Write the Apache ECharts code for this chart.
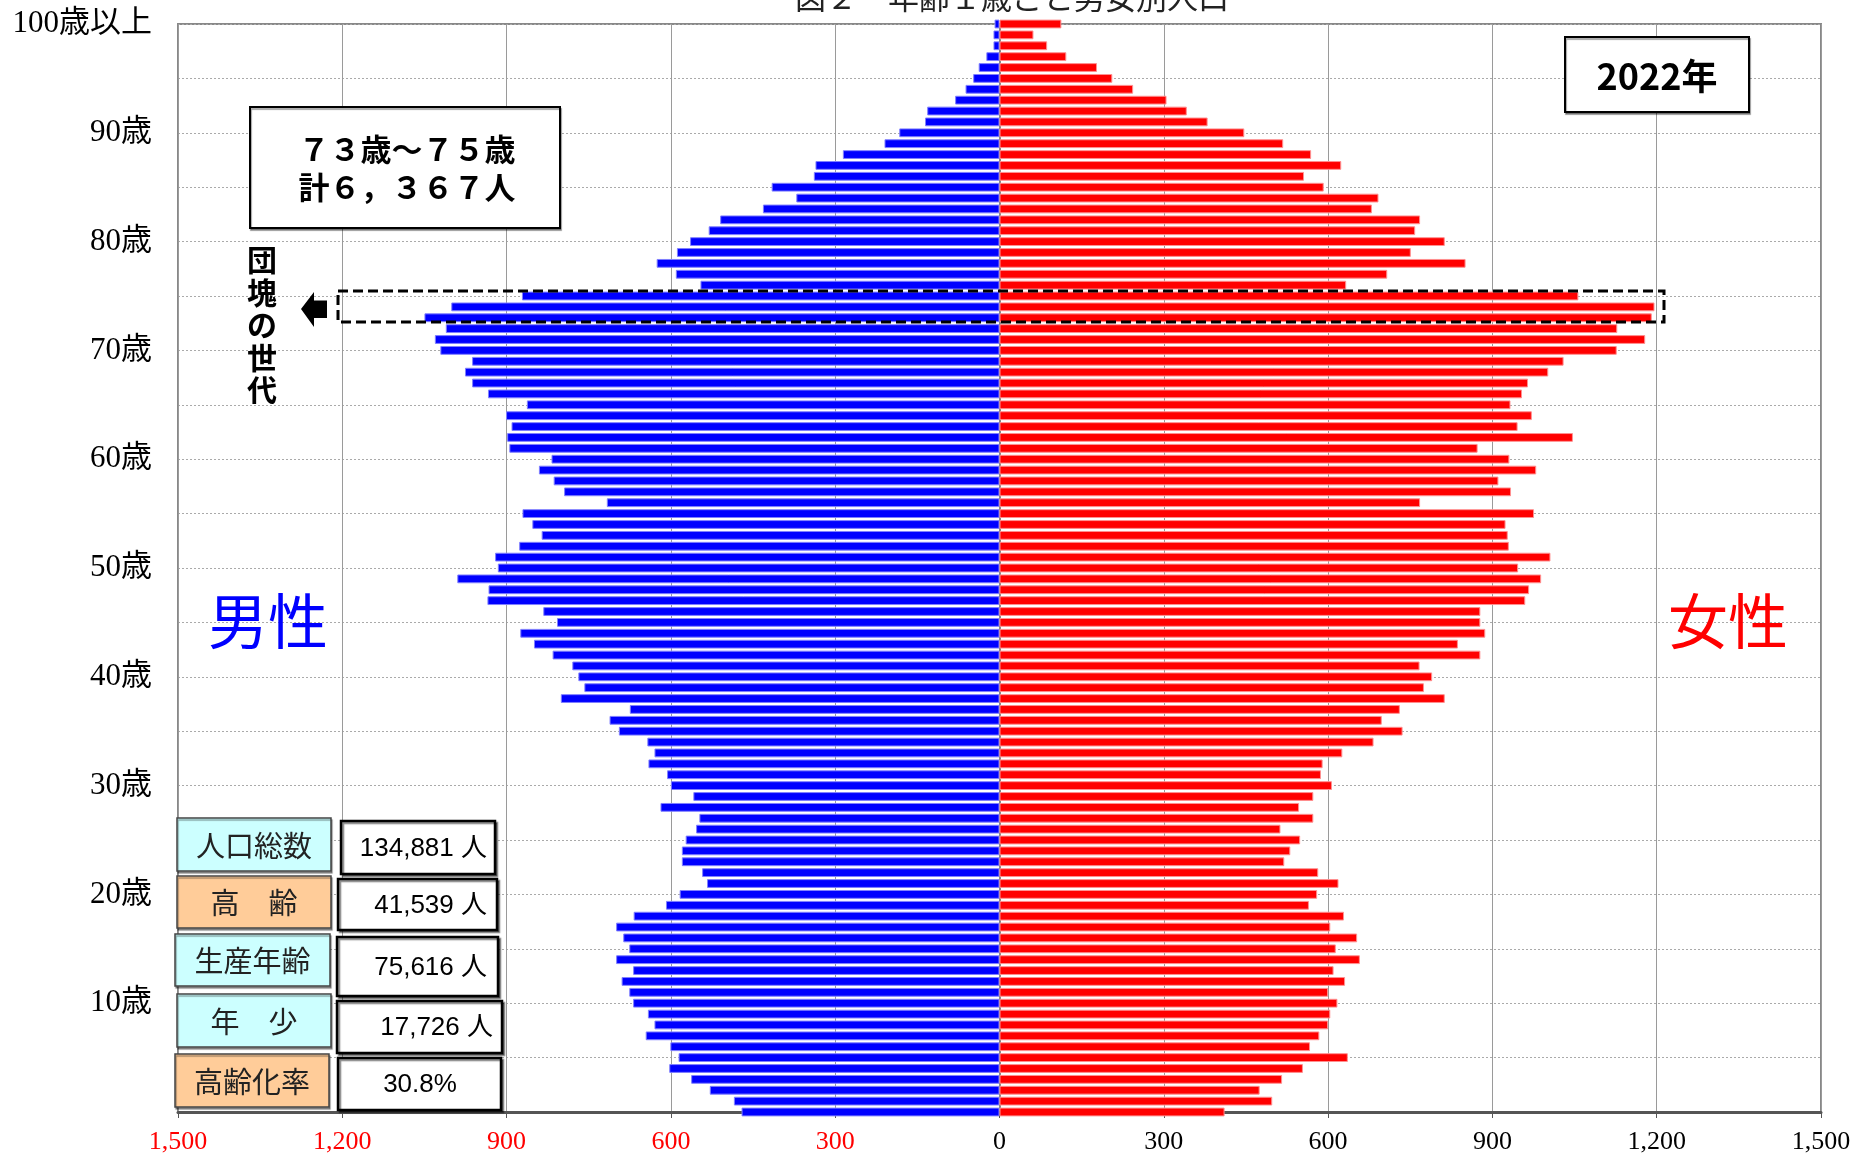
<!DOCTYPE html>
<html>
<head>
<meta charset="utf-8">
<script src="https://cdn.jsdelivr.net/npm/echarts@6/dist/echarts.min.js"></script>
<style>
html,body{margin:0;padding:0;background:#fff;}
#chart{width:1858px;height:1157px;}
</style>
</head>
<body>
<div id="chart"></div>
<script>
// ages 0 .. 100 (100 = 100歳以上)
const ages = Array.from({length: 101}, (_, i) => String(i));
// 男性 population by age, index = age (0..100)
const male = [
  471, 485, 529, 563, 603, 586, 601, 646, 630, 642,
  669, 676, 690, 669, 700, 676, 687, 700, 668, 609,
  584, 534, 543, 580, 580, 573, 554, 548, 619, 559,
  600, 607, 641, 630, 643, 695, 712, 675, 801, 758,
  769, 780, 816, 850, 875, 808, 833, 935, 933, 990,
  916, 921, 877, 836, 853, 871, 717, 795, 814, 841,
  818, 895, 899, 891, 901, 863, 934, 963, 976, 963,
  1021, 1031, 1011, 1050, 1001, 872, 546, 591, 626, 589,
  565, 531, 510, 432, 371, 416, 339, 336, 286, 210,
  183, 136, 132, 81, 62, 48, 38, 24, 11, 11,
  9
];
// 女性 population by age, index = age (0..100)
const female = [
  411, 498, 475, 516, 554, 636, 567, 584, 600, 604,
  617, 600, 631, 610, 658, 614, 653, 604, 629, 565,
  580, 619, 582, 520, 531, 549, 513, 573, 547, 573,
  607, 587, 590, 626, 683, 736, 698, 731, 813, 775,
  790, 767, 878, 837, 887, 878, 878, 960, 967, 989,
  947, 1006, 930, 928, 924, 976, 768, 934, 911, 980,
  931, 873, 1047, 946, 972, 933, 954, 965, 1002, 1030,
  1127, 1179, 1128, 1191, 1196, 1057, 633, 708, 851, 751,
  813, 759, 768, 680, 692, 592, 556, 624, 569, 518,
  447, 380, 342, 305, 244, 206, 178, 122, 87, 62,
  113
];
const xTicks = {min: -1500, max: 1500, interval: 300};
const summaryLabels = ['人口総数', '高　齢', '生産年齢', '年　少', '高齢化率'];
const summaryValues = ['134,881 人', '41,539 人', '75,616 人', '17,726 人', '30.8%'];
const titleText = '図２　年齢１歳ごと男女別人口';
const noteLines = '７３歳～７５歳\n計６，３６７人';
const yearText = '2022年';

const chart = echarts.init(document.getElementById('chart'), null, {renderer: 'canvas'});
const serif = '"Liberation Serif", "DejaVu Serif", "Noto Sans CJK JP", serif';
const jp = '"Noto Sans CJK JP", sans-serif';

function fmt(v) {
  return String(Math.abs(Number(v))).replace(/\B(?=(\d{3})+(?!\d))/g, ',');
}

const labelBoxes = [
  {x: 177, y: 818, w: 154, h: 53, fill: '#ccffff'},
  {x: 177, y: 876, w: 154, h: 52, fill: '#ffcc99'},
  {x: 175, y: 934, w: 155, h: 52, fill: '#ccffff'},
  {x: 177, y: 994, w: 154, h: 53, fill: '#ccffff'},
  {x: 175, y: 1054, w: 154, h: 53, fill: '#ffcc99'}
];
const valueBoxes = [
  {x: 341, y: 821, w: 154, h: 53, tx: 487, align: 'right'},
  {x: 338, y: 879, w: 159, h: 51, tx: 487, align: 'right'},
  {x: 337, y: 937, w: 161, h: 59, tx: 487, align: 'right'},
  {x: 337, y: 1001, w: 165, h: 52, tx: 493, align: 'right'},
  {x: 338, y: 1058, w: 163, h: 52, tx: 420, align: 'center'}
];

const graphics = [];
// title (partially cut at top)
graphics.push({type: 'text', x: 1012, y: -3, z: 100,
  style: {text: titleText, fontSize: 31, fontFamily: jp, fill: '#222', align: 'center', verticalAlign: 'middle'}});
// summary table
summaryLabels.forEach((t, i) => {
  const b = labelBoxes[i];
  graphics.push({type: 'rect', z: 100, shape: {x: b.x, y: b.y, width: b.w, height: b.h},
    style: {fill: b.fill, stroke: '#444', lineWidth: 1.5, shadowColor: 'rgba(0,0,0,0.35)', shadowOffsetX: 1, shadowOffsetY: 2, shadowBlur: 1}});
  graphics.push({type: 'text', z: 101, x: b.x + b.w / 2, y: b.y + b.h / 2 + 1,
    style: {text: t, fontSize: 29, fontFamily: jp, fill: '#222', align: 'center', verticalAlign: 'middle'}});
});
summaryValues.forEach((t, i) => {
  const b = valueBoxes[i];
  graphics.push({type: 'rect', z: 100, shape: {x: b.x, y: b.y, width: b.w, height: b.h},
    style: {fill: '#fff', stroke: '#000', lineWidth: 2.5, shadowColor: 'rgba(0,0,0,0.45)', shadowOffsetX: 2, shadowOffsetY: 2, shadowBlur: 1}});
  graphics.push({type: 'text', z: 101, x: b.tx, y: b.y + b.h / 2 + 1,
    style: {text: t, fontSize: 26, fontFamily: '"Liberation Sans", Arial, "Noto Sans CJK JP", sans-serif', fill: '#000', align: b.align, verticalAlign: 'middle'}});
});
// note box
graphics.push({type: 'rect', z: 100, shape: {x: 250, y: 107, width: 310, height: 121},
  style: {fill: '#fff', stroke: '#000', lineWidth: 2, shadowColor: 'rgba(0,0,0,0.35)', shadowOffsetX: 1, shadowOffsetY: 2, shadowBlur: 1}});
graphics.push({type: 'text', z: 101, x: 407, y: 168,
  style: {text: noteLines, fontSize: 31, fontWeight: 'bold', fontFamily: jp, fill: '#000', align: 'center', verticalAlign: 'middle', lineHeight: 38}});
// vertical 団塊の世代
graphics.push({type: 'text', z: 101, x: 262, y: 325,
  style: {text: '団\n塊\nの\n世\n代', fontSize: 30, fontWeight: 'bold', fontFamily: jp, fill: '#000', align: 'center', verticalAlign: 'middle', lineHeight: 32.5}});
// arrow
graphics.push({type: 'polygon', z: 101,
  shape: {points: [[301, 309], [314, 292], [314, 300.5], [327, 300.5], [327, 318], [314, 318], [314, 327]]},
  style: {fill: '#000'}});
// dashed frame around 73-75
graphics.push({type: 'rect', z: 102, shape: {x: 338, y: 291, width: 1326, height: 31},
  style: {fill: 'none', stroke: '#000', lineWidth: 3, lineDash: [10, 5]}});
// year box
graphics.push({type: 'rect', z: 100, shape: {x: 1565, y: 37, width: 184, height: 75},
  style: {fill: '#fff', stroke: '#000', lineWidth: 2, shadowColor: 'rgba(0,0,0,0.35)', shadowOffsetX: 1, shadowOffsetY: 2, shadowBlur: 1}});
graphics.push({type: 'text', z: 101, x: 1657, y: 76,
  style: {text: yearText, fontSize: 36, fontWeight: 'bold', fontFamily: jp, fill: '#000', align: 'center', verticalAlign: 'middle'}});
// 男性 / 女性
graphics.push({type: 'text', z: 101, x: 268, y: 621,
  style: {text: '男性', fontSize: 60, fontFamily: jp, fill: '#0000ff', align: 'center', verticalAlign: 'middle'}});
graphics.push({type: 'text', z: 101, x: 1728, y: 621,
  style: {text: '女性', fontSize: 60, fontFamily: jp, fill: '#ff0000', align: 'center', verticalAlign: 'middle'}});

const option = {
  animation: false,
  backgroundColor: '#fff',
  grid: {left: 178, right: 37, top: 24, bottom: 45, show: true, borderColor: '#888', borderWidth: 2},
  xAxis: {
    type: 'value', min: xTicks.min, max: xTicks.max, interval: xTicks.interval,
    axisLine: {show: true, onZero: false, lineStyle: {color: '#555', width: 3}},
    axisTick: {show: true, length: 6, lineStyle: {color: '#555'}},
    splitLine: {show: true, lineStyle: {color: '#9a9a9a', width: 1}},
    axisLabel: {
      margin: 17, fontSize: 26, fontFamily: serif,
      formatter: fmt,
      color: function (v) { return Number(v) < 0 ? '#ff0000' : '#000'; }
    }
  },
  yAxis: {
    type: 'category', data: ages, boundaryGap: false,
    axisLine: {show: true, lineStyle: {color: '#888', width: 2}},
    axisTick: {show: false},
    axisLabel: {
      interval: function (i) { return i % 10 === 0 && i > 0; },
      formatter: function (v, i) { return Number(v) === 100 ? '100歳以上' : v + '歳'; },
      margin: 26, fontSize: 31, fontFamily: serif, color: '#000'
    },
    splitLine: {show: true, interval: function (i) { return i % 5 === 0; },
      lineStyle: {color: '#aaa', type: [2, 2], width: 1}}
  },
  series: [
    {name: '男性', type: 'bar', barWidth: 8.8, barGap: '-100%',
      data: male.map(v => -v),
      itemStyle: {color: '#0000ff', borderColor: '#8080ff', borderWidth: 1}},
    {name: '女性', type: 'bar', barWidth: 8.8, barGap: '-100%',
      data: female,
      itemStyle: {color: '#ff0000', borderColor: '#ff9090', borderWidth: 1}}
  ],
  graphic: graphics
};
chart.setOption(option);
</script>
</body>
</html>
